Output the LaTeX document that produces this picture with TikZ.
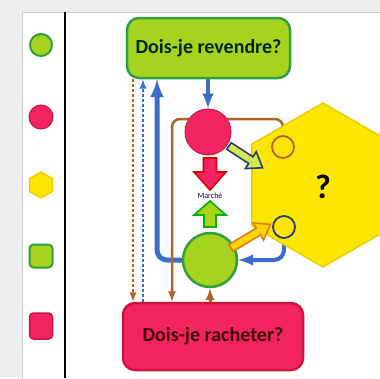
\documentclass[tikz,border=0pt]{standalone}
\usepackage{fontspec}
\setmainfont{Carlito}
\usetikzlibrary{shapes.geometric,backgrounds}

\definecolor{vertclair}{RGB}{166,212,30}
\definecolor{vertfonce}{RGB}{46,160,62}
\definecolor{rose}{RGB}{242,36,96}
\definecolor{rougefonce}{RGB}{205,20,60}
\definecolor{jaune}{RGB}{255,230,0}
\definecolor{jaunebord}{RGB}{236,206,0}
\definecolor{bleu}{RGB}{58,110,200}
\definecolor{brun}{RGB}{176,98,40}
\definecolor{marine}{RGB}{40,62,110}
\definecolor{orangebord}{RGB}{224,124,24}
\definecolor{grisfond}{RGB}{238,238,238}

\tikzset{
  decision/.style={draw, line width=2.5pt, rounded corners=12pt, inner sep=0pt,
    font=\bfseries\fontsize{20}{22}\selectfont},
  etat/.style={circle, draw, line width=2pt, inner sep=0pt},
  petit/.style={circle, draw, fill=jaune, line width=1.8pt, minimum size=22, inner sep=0pt},
  hexa/.style={regular polygon, regular polygon sides=6, regular polygon rotate=30,
    draw=jaunebord, fill=jaune, line width=1.5pt, inner sep=0pt},
  fleche/.style={-latex, line width=#1, color=bleu},
  fleche/.default=4pt,
  pointille/.style={-latex, line width=2.2pt, dash pattern=on 3pt off 2pt},
  bloc/.style={line width=1.6pt, line join=miter}
}

\begin{document}
\begin{tikzpicture}[x=1pt,y=-1pt]
  \useasboundingbox (0,0) rectangle (380,378);
  \clip (0,0) rectangle (380,378);

  % legend
  \node[etat, fill=vertclair, draw=vertfonce, minimum size=22] (lvert) at (41,45) {};
  \node[etat, fill=rose, draw=rougefonce, minimum size=24, line width=1pt] (lrouge) at (41,117) {};
  \node[hexa, minimum size=26] (ljaune) at (41,185) {};
  \node[draw=vertfonce, fill=vertclair, line width=2pt, rounded corners=4pt,
    minimum size=23, inner sep=0pt] (lcarrevert) at (41,256) {};
  \node[draw=rougefonce, fill=rose, line width=1.5pt, rounded corners=4pt,
    minimum width=23, minimum height=26, inner sep=0pt] (lcarrerouge) at (41,326) {};

  % market
  \node[hexa, minimum size=164] (marche) at (323,185) {};
  \node[font=\bfseries\fontsize{34}{36}\selectfont] (question) at (323,187) {?};
  \node[petit, draw=brun] (hautc) at (283,147) {};
  \node[petit, draw=marine] (basc) at (284,227) {};

  % decisions
  \node[decision, fill=vertclair, draw=vertfonce, text=black!85!green,
    minimum width=163, minimum height=60] (revendre) at (208.5,48) {Dois-je revendre?};
  \node[decision, fill=rose, draw=rougefonce, text=black!75!red,
    minimum width=180, minimum height=67] (racheter) at (213,336.5) {Dois-je racheter?};

  \node[etat, fill=rose, draw=rose!80!black, line width=1pt, minimum size=46] (vente) at (208,132) {};
  \node[etat, fill=vertclair, draw=vertfonce, line width=2.5pt, minimum size=54] (achat) at (210,260) {};

  \node[font=\fontsize{8}{9}\selectfont, text=black!60!blue] (mot) at (210,195.5) {Marché};

  % red and green block arrows
  \filldraw[bloc, fill=rose, draw=red!85!black] (203.5,158) -- (216.5,158) -- (216.5,172) -- (226,172)
    -- (210,190) -- (194,172) -- (203.5,172) -- cycle;
  \filldraw[bloc, fill=vertclair, draw=green!70!black] (204,227) -- (216,227) -- (216,215) -- (226,215)
    -- (210,201) -- (194,215) -- (204,215) -- cycle;

  \begin{scope}[shift={(229,146)}, rotate=-33]
    \filldraw[bloc, fill=yellow!75!green!70, draw=marine] (0,-4) -- (26,-4) -- (26,-10) -- (40,0)
      -- (26,10) -- (26,4) -- (0,4) -- cycle;
  \end{scope}
  \begin{scope}[shift={(231,248)}, rotate=31]
    \filldraw[bloc, fill=jaune!85!orange, draw=orangebord] (0,-4) -- (32,-4) -- (32,-10) -- (46,0)
      -- (32,10) -- (32,4) -- (0,4) -- cycle;
  \end{scope}

  \coordinate (xbrun) at (133,0);
  \coordinate (xbleu) at (143,0);
  \coordinate (xretour) at (157,0);
  \coordinate (coinb) at (172,119);

  \begin{scope}[on background layer]
    \fill[grisfond] (0,0) rectangle (380,378);
    \filldraw[fill=white, draw=black!20, line width=1pt] (22,12) rectangle (390,390);
    \draw[line width=2pt] (65,12) -- (65,378);

    \draw[fleche] (revendre.south -| vente) -- (vente.north);
    \draw[fleche=5pt, rounded corners=10pt] (achat.west) -| (revendre.south -| xretour);
    \draw[fleche, rounded corners=10pt] (basc.south) |- (achat.east);
    \draw[-latex, line width=2.5pt, brun, rounded corners=8pt] (hautc.north) |- (coinb)
      -- (coinb |- racheter.north);
    \draw[-latex, line width=3pt, brun] (racheter.north -| achat) -- (achat.south);
    \draw[pointille, brun] (revendre.south -| xbrun) -- (racheter.north -| xbrun);
    \draw[pointille, bleu] (racheter.north -| xbleu) -- (revendre.south -| xbleu);
  \end{scope}
\end{tikzpicture}
\end{document}
